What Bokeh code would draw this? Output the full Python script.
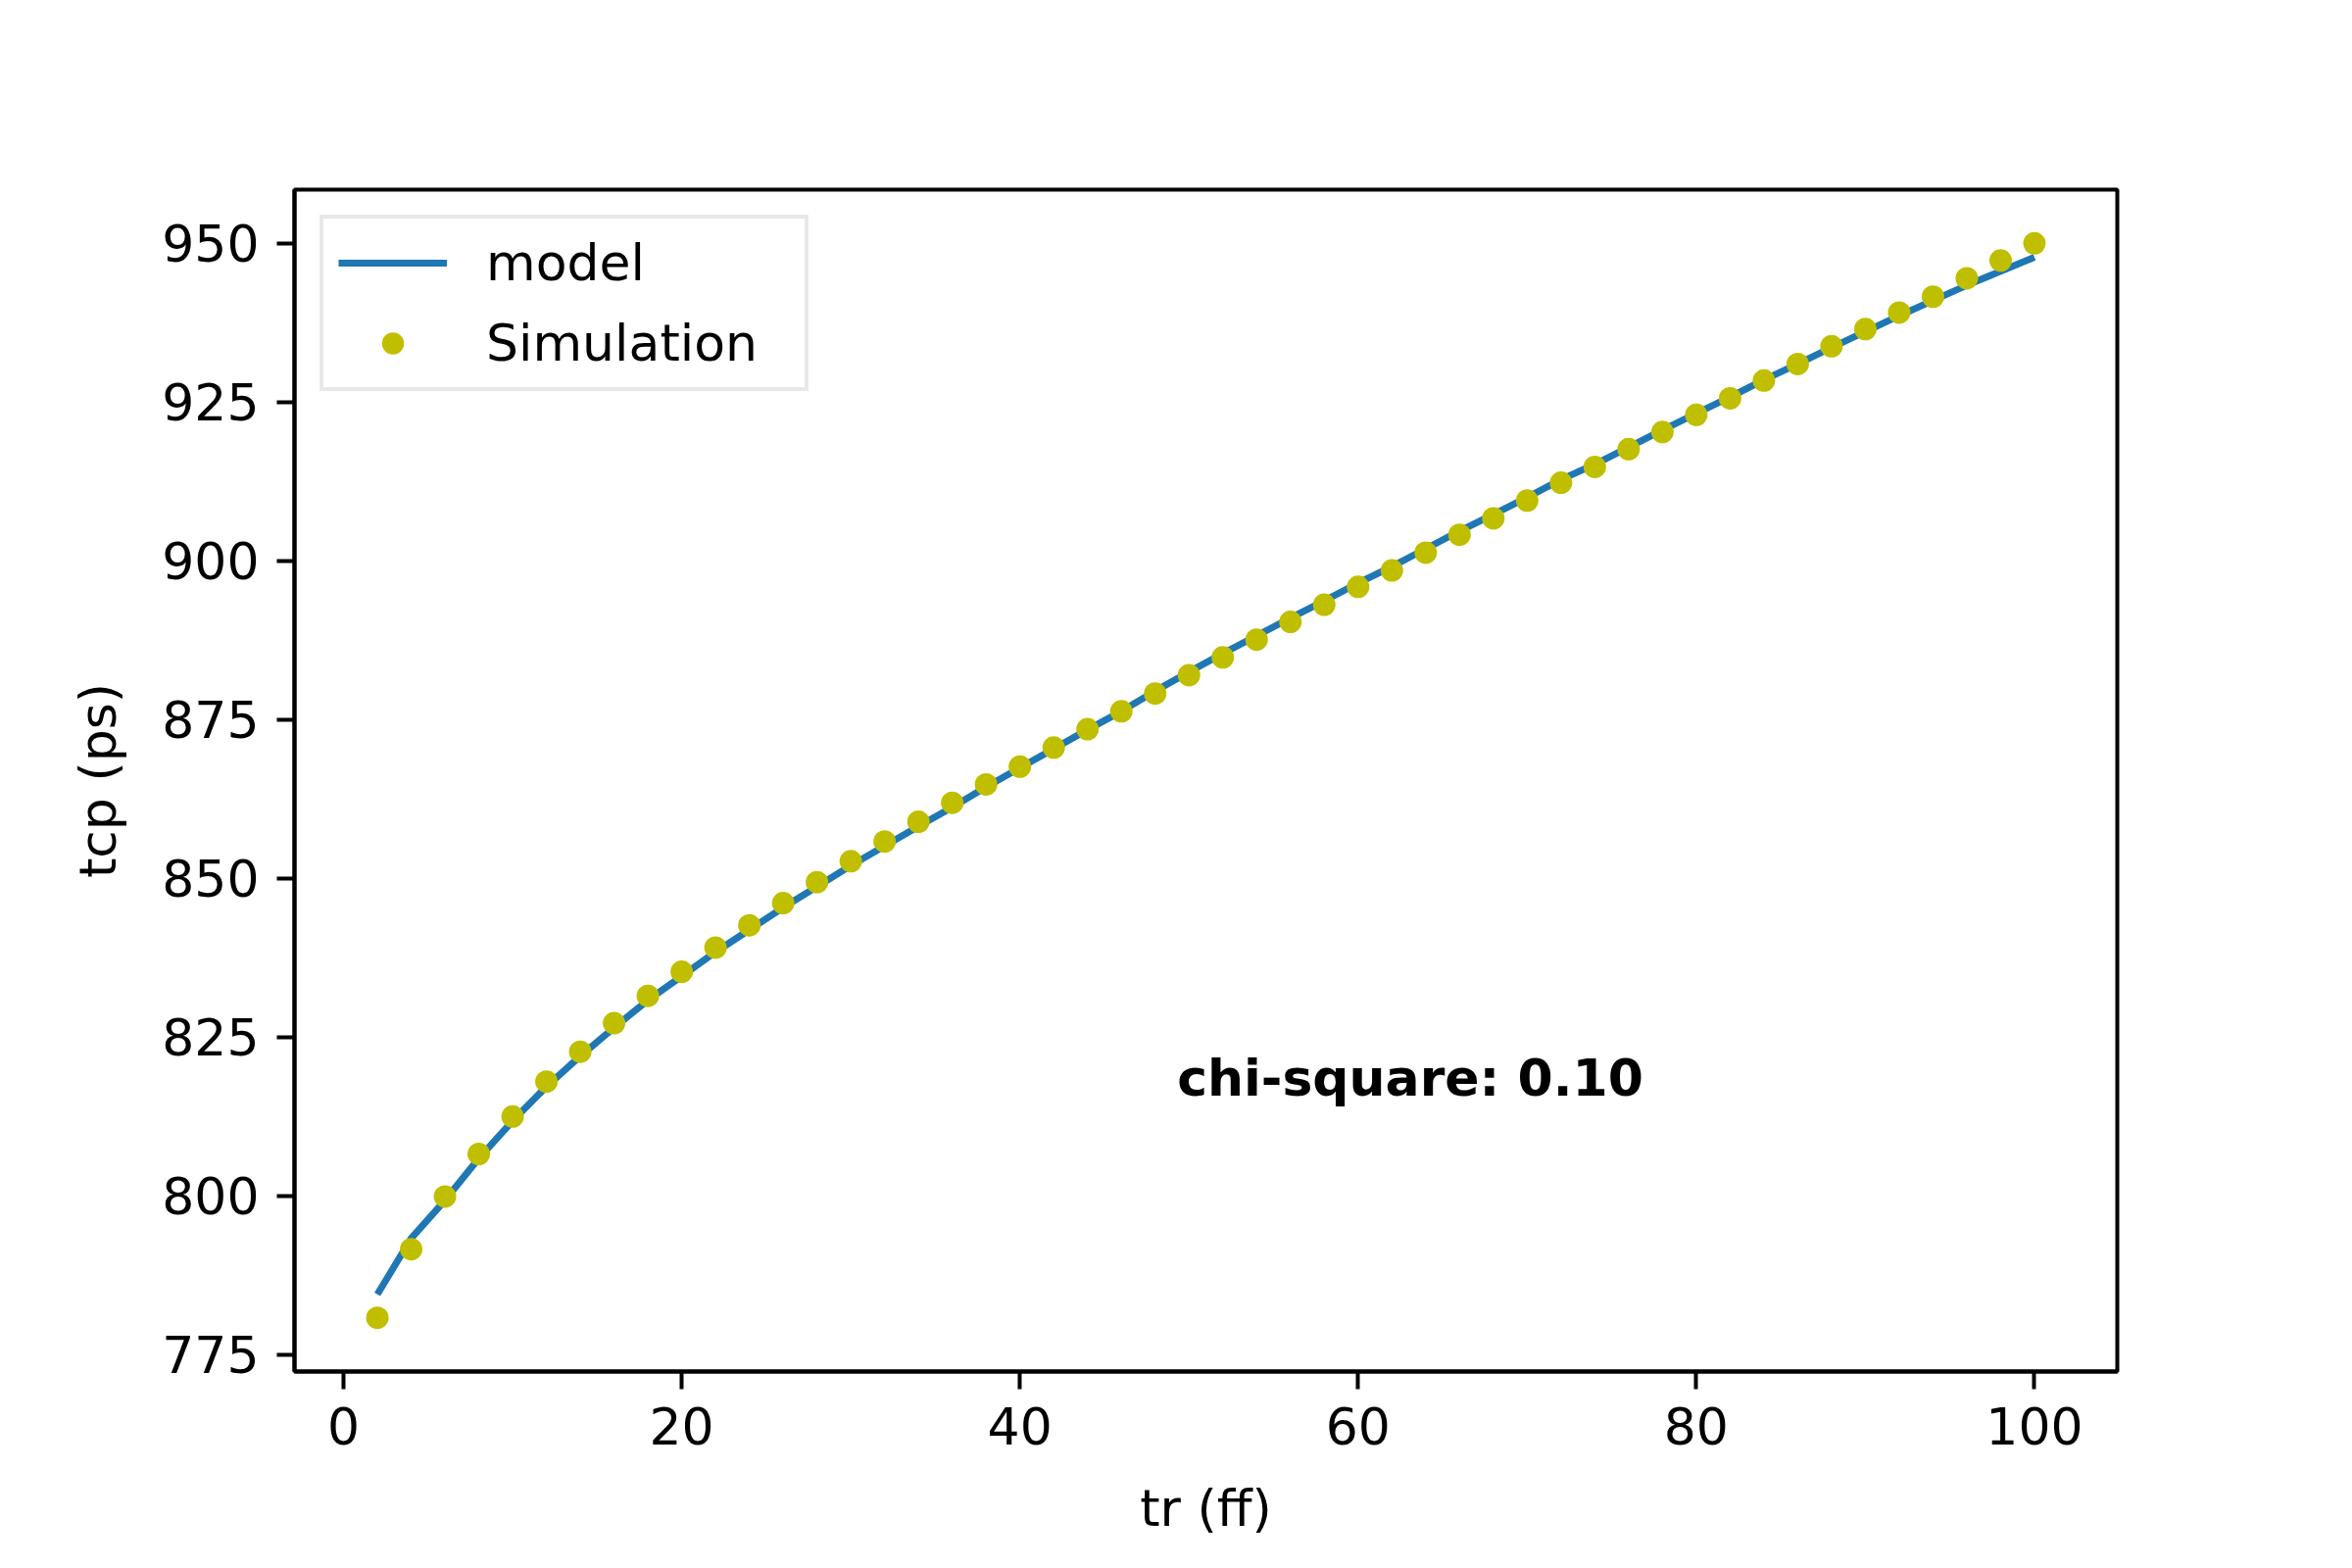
from bokeh.plotting import figure
from bokeh.models import (FixedTicker, Legend, LegendItem, Label, ColumnDataSource)
from bokeh.embed import file_html
from bokeh.resources import INLINE

# ---- data ----
tr_ff = [2, 4, 6, 8, 10, 12, 14, 16, 18, 20, 22, 24, 26, 28, 30, 32, 34, 36, 38, 40,
         42, 44, 46, 48, 50, 52, 54, 56, 58, 60, 62, 64, 66, 68, 70, 72, 74, 76, 78, 80,
         82, 84, 86, 88, 90, 92, 94, 96, 98, 100]
simulation = [780.8, 791.6, 799.9, 806.6, 812.5, 818.0, 822.7, 827.2, 831.5, 835.3,
              839.1, 842.6, 846.1, 849.4, 852.7, 855.8, 858.9, 861.9, 864.8, 867.6,
              870.6, 873.5, 876.3, 879.1, 882.0, 884.8, 887.6, 890.4, 893.1, 895.9,
              898.5, 901.3, 904.1, 906.7, 909.5, 912.3, 914.8, 917.6, 920.3, 923.0,
              925.6, 928.4, 931.0, 933.8, 936.5, 939.1, 941.6, 944.5, 947.3, 950.0]
model = [784.5, 793.3, 799.3, 805.9, 811.8, 817.2, 822.0, 826.5, 830.8, 834.6,
         838.4, 841.9, 845.4, 848.7, 852.0, 855.1, 858.2, 861.2, 864.4, 867.4,
         870.4, 873.4, 876.3, 879.5, 882.5, 885.4, 888.2, 891.0, 893.7, 896.5,
         899.1, 901.9, 904.7, 907.3, 910.0, 912.8, 915.2, 917.9, 920.6, 923.2,
         925.8, 928.5, 931.0, 933.6, 936.1, 938.6, 941.0, 943.4, 945.6, 947.8]
x_ticks = [0, 20, 40, 60, 80, 100]
y_ticks = [775, 800, 825, 850, 875, 900, 925, 950]
chi_text = "chi-square: 0.10"

FONT = "DejaVu Sans"
FS = "52px"

src = ColumnDataSource(dict(x=tr_ff, sim=simulation, model=model))

p = figure(width=2400, height=1600, output_backend="svg", toolbar_location=None,
           x_range=(-2.9, 104.9), y_range=(772.34, 958.46),
           min_border_left=300, min_border_right=240,
           min_border_top=193, min_border_bottom=201)
p.background_fill_color = "white"
p.border_fill_color = "white"
p.outline_line_color = "black"
p.outline_line_width = 4
p.xgrid.visible = False
p.ygrid.visible = False

r_model = p.line("x", "model", source=src, line_color="#1f77b4", line_width=7)
r_sim = p.scatter("x", "sim", source=src, size=23, fill_color="#bfbf00",
                  line_color="#bfbf00", line_width=0)

for ax in (p.xaxis[0], p.yaxis[0]):
    ax.axis_line_width = 4
    ax.axis_line_color = "black"
    ax.major_tick_line_width = 4
    ax.major_tick_out = 18
    ax.major_tick_in = 0
    ax.minor_tick_line_color = None
    ax.major_label_text_font = FONT
    ax.major_label_text_font_size = FS
    ax.major_label_text_color = "black"
    ax.major_label_standoff = 18
    ax.axis_label_text_font = FONT
    ax.axis_label_text_font_size = FS
    ax.axis_label_text_font_style = "normal"
    ax.axis_label_text_color = "black"

p.xaxis[0].ticker = FixedTicker(ticks=x_ticks)
p.yaxis[0].ticker = FixedTicker(ticks=y_ticks)
p.xaxis[0].axis_label = "tr (ff)"
p.yaxis[0].axis_label = "tcp (ps)"
p.xaxis[0].axis_label_standoff = 32
p.yaxis[0].axis_label_standoff = 32

legend = Legend(items=[LegendItem(label="model", renderers=[r_model]),
                       LegendItem(label="Simulation", renderers=[r_sim])],
                location="top_left", margin=26,
                label_text_font=FONT, label_text_font_size=FS,
                label_text_color="black",
                glyph_width=111, glyph_height=56, label_height=56,
                label_width=310, label_standoff=40, spacing=22, padding=15,
                border_line_color="#d2d2d2", border_line_width=4,
                background_fill_color="white", background_fill_alpha=0.8)
p.add_layout(legend)

p.add_layout(Label(x=49.3, y=818.5, text=chi_text, text_font=FONT,
                   text_font_size=FS, text_font_style="bold",
                   text_color="black", text_align="left",
                   text_baseline="alphabetic"))

open("out.html", "w").write(file_html(p, INLINE))
